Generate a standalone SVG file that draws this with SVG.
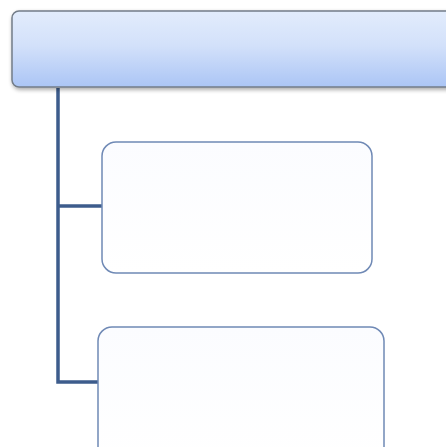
<svg xmlns="http://www.w3.org/2000/svg" width="446" height="447" viewBox="0 0 446 447">
<defs>
<linearGradient id="gTop" x1="0" y1="0" x2="0" y2="1">
<stop offset="0" stop-color="#e2ecfc"/>
<stop offset="0.45" stop-color="#d3e1fa"/>
<stop offset="1" stop-color="#abc5f5"/>
</linearGradient>
<linearGradient id="gChild" x1="0" y1="0" x2="0" y2="1">
<stop offset="0" stop-color="#fbfcff"/>
<stop offset="1" stop-color="#ffffff"/>
</linearGradient>
<filter id="sh" x="-5%" y="-20%" width="110%" height="150%">
<feGaussianBlur in="SourceAlpha" stdDeviation="2"/>
<feOffset dx="1" dy="2"/>
<feComponentTransfer><feFuncA type="linear" slope="0.35"/></feComponentTransfer>
<feMerge><feMergeNode/><feMergeNode in="SourceGraphic"/></feMerge>
</filter>
</defs>
<style>
.conn{fill:none;stroke:#3d5c8c;stroke-width:3.5}
.top{fill:url(#gTop);stroke:#737c88;stroke-width:1.5}
.child{fill:url(#gChild);stroke:#6f89b5;stroke-width:1.5}
</style>
<rect width="446" height="447" fill="#ffffff"/>
<g id="connectors">
<path class="conn" d="M58,88 V382 H99"/>
<path class="conn" d="M58,206 H103"/>
</g>
<g id="root">
<rect class="top" x="12" y="11" width="450" height="76" rx="7" filter="url(#sh)"/>
</g>
<g id="child1">
<rect class="child" x="102" y="142" width="270" height="131" rx="14"/>
</g>
<g id="child2">
<rect class="child" x="98" y="327" width="286" height="140" rx="14"/>
</g>
</svg>
